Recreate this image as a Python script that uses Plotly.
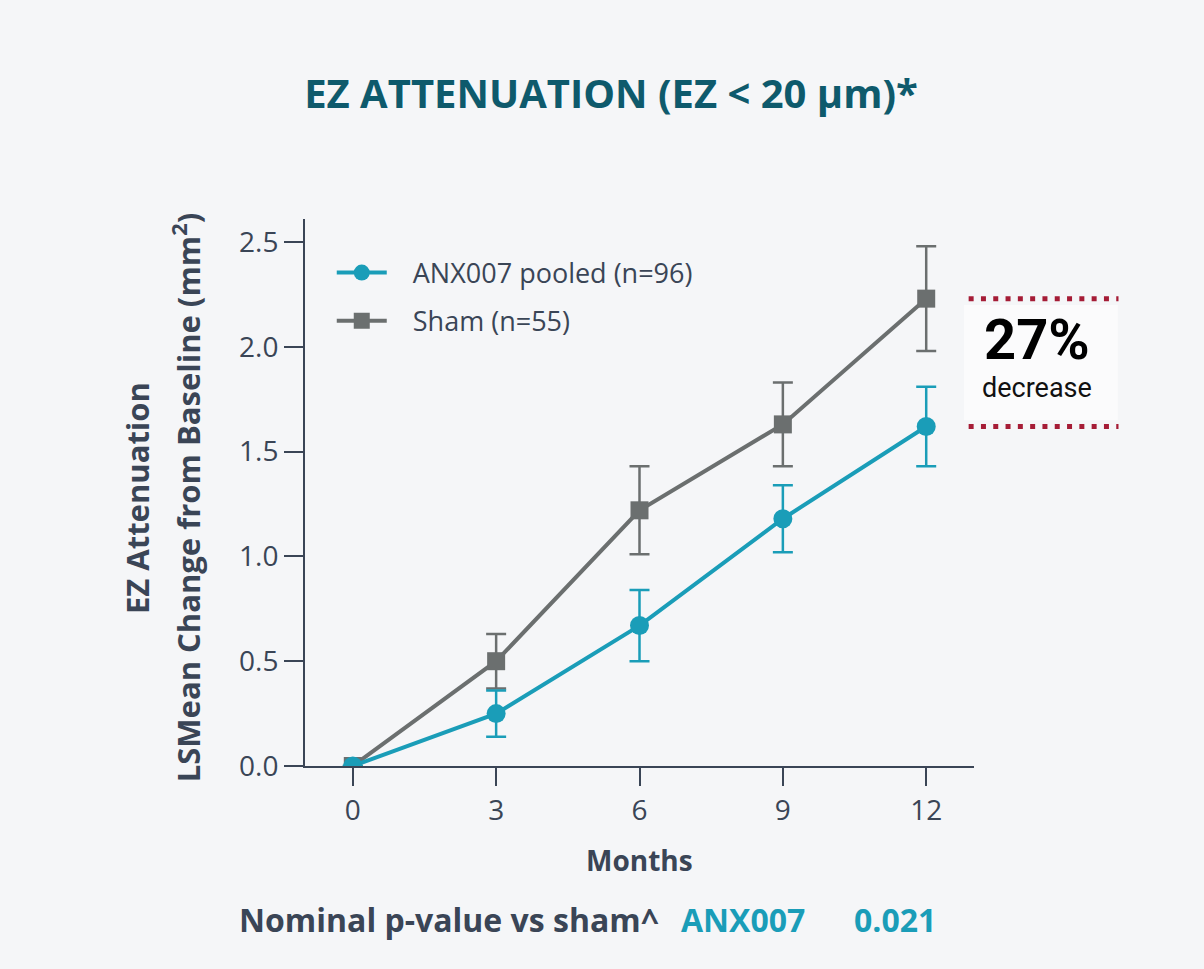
import plotly.graph_objects as go

months = [0, 3, 6, 9, 12]
anx_mean = [0.0, 0.25, 0.67, 1.18, 1.62]
anx_err = [0.0, 0.11, 0.17, 0.16, 0.19]
sham_mean = [0.0, 0.50, 1.22, 1.63, 2.23]
sham_err = [0.0, 0.13, 0.21, 0.20, 0.25]
y_ticks = [0.0, 0.5, 1.0, 1.5, 2.0, 2.5]
x_ticks = [0, 3, 6, 9, 12]
anx_label = "ANX007 pooled (n=96)"
sham_label = "Sham (n=55)"
pct_decrease = "27%"
p_value = "0.021"

TEAL = "#1a9db8"
GRAY = "#6b6f6f"
AXIS = "#3a4556"
TITLE = "#0e5a6c"
RED = "#a51c36"
BG = "#f5f6f8"
FONT = "Open Sans"
Y_MAX = 2.61
PAD = "\u00a0\u00a0\u00a0"

fig = go.Figure()
fig.add_trace(go.Scatter(
    x=months, y=sham_mean, name=PAD + sham_label, mode="lines+markers",
    line=dict(color=GRAY, width=4),
    marker=dict(symbol="square", size=18, color=GRAY),
    error_y=dict(type="data", array=sham_err, color=GRAY, thickness=2.5, width=10),
    legendgroup="b", legendrank=2,
))
fig.add_trace(go.Scatter(
    x=months, y=anx_mean, name=PAD + anx_label, mode="lines+markers",
    line=dict(color=TEAL, width=4),
    marker=dict(symbol="circle", size=19, color=TEAL),
    error_y=dict(type="data", array=anx_err, color=TEAL, thickness=2.5, width=10),
    legendgroup="a", legendrank=1,
))

# highlight box and dotted lines at month-12 values
fig.add_shape(type="rect", xref="paper", yref="paper",
              x0=0.985, x1=1.215, y0=(anx_mean[-1] + 0.03) / Y_MAX, y1=(sham_mean[-1] - 0.03) / Y_MAX,
              fillcolor="#fbfbfc", line=dict(width=0), layer="below")
for v in (sham_mean[-1], anx_mean[-1]):
    fig.add_shape(type="line", xref="paper", yref="paper",
                  x0=0.992, x1=1.216, y0=v / Y_MAX, y1=v / Y_MAX,
                  line=dict(color=RED, width=5, dash="5px,7.3px"))

annos = [
    dict(text="<b>" + pct_decrease + "</b>", x=1.094, y=0.779, font=dict(family="Roboto", size=56, color="#000000")),
    dict(text="decrease", x=1.094, y=0.691, font=dict(family="Roboto", size=27, color="#111111")),
    dict(text="<b>EZ Attenuation</b>", x=-0.251, y=0.49, textangle=-90,
         font=dict(family=FONT, size=31, color=AXIS)),
    dict(text="<b>LSMean Change from Baseline (mm<sup>2</sup>)</b>", x=-0.176, y=0.49, textangle=-90,
         font=dict(family=FONT, size=31, color=AXIS)),
    dict(text="<b>Months</b>", x=0.5007, y=-0.172, font=dict(family=FONT, size=28, color=AXIS)),
    dict(text="<b>Nominal p-value vs sham^</b>", x=0.2145, y=-0.2815, font=dict(family=FONT, size=32, color=AXIS)),
    dict(text="<b>ANX007</b>", x=0.654, y=-0.2815, font=dict(family=FONT, size=32, color=TEAL)),
    dict(text="<b>" + p_value + "</b>", x=0.882, y=-0.2815, font=dict(family=FONT, size=32, color=TEAL)),
]
for a in annos:
    fig.add_annotation(xref="paper", yref="paper", showarrow=False,
                       xanchor="center", yanchor="middle", **a)

fig.update_layout(
    width=1204, height=969,
    margin=dict(l=305, r=230, t=219, b=203),
    paper_bgcolor=BG, plot_bgcolor=BG,
    font=dict(family=FONT, color=AXIS),
    title=dict(text="<b>EZ ATTENUATION (EZ &lt; 20 μm)*</b>", x=0.5075, y=1 - 94 / 969,
               xanchor="center", yanchor="middle", xref="container", yref="container",
               font=dict(family=FONT, size=40, color=TITLE)),
    showlegend=True,
    legend=dict(x=0.040, y=0.946, xanchor="left", yanchor="top", bgcolor="rgba(0,0,0,0)",
                font=dict(family=FONT, size=27, color=AXIS), traceorder="grouped",
                tracegroupgap=10, itemwidth=50),
    xaxis=dict(range=[-1, 13], tickvals=x_ticks, showgrid=False, zeroline=False,
               showline=True, linecolor=AXIS, linewidth=2, ticks="outside", ticklen=18,
               tickwidth=2, tickcolor=AXIS, tickfont=dict(size=28, color=AXIS)),
    yaxis=dict(range=[0, Y_MAX], tickvals=y_ticks, tickformat=".1f", showgrid=False, zeroline=False,
               showline=True, linecolor=AXIS, linewidth=2, ticks="outside", ticklen=19,
               tickwidth=2, tickcolor=AXIS, tickfont=dict(size=28, color=AXIS)),
)

fig.write_html("out.html", config={"displayModeBar": False},
               post_script="document.body.style.margin='0';")
